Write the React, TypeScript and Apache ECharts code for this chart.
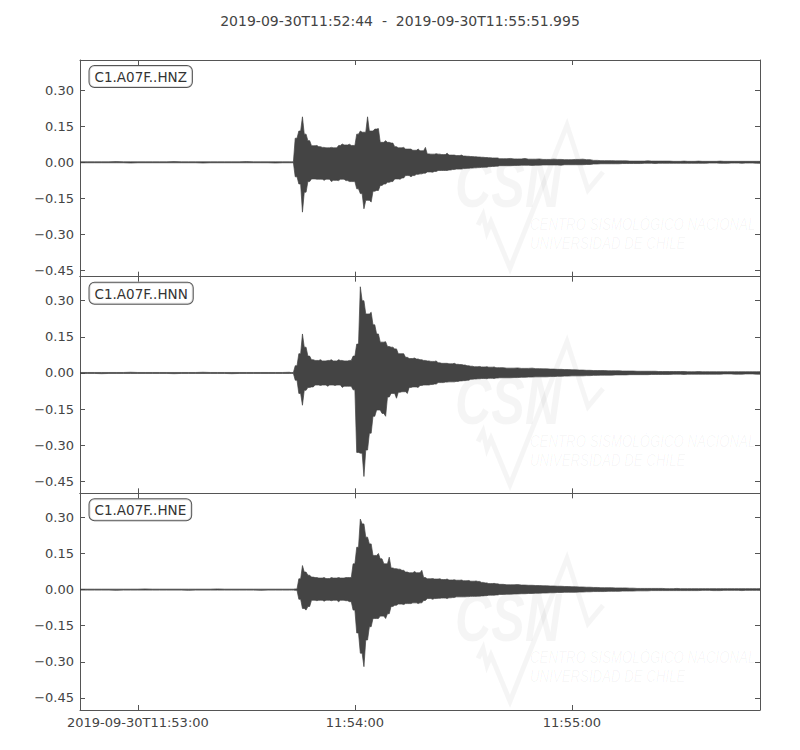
import React, { useEffect, useRef } from "react";
import * as echarts from "echarts";

// ---------- labels ----------
const titleText = "2019-09-30T11:52:44  -  2019-09-30T11:55:51.995";
const channels = ["C1.A07F..HNZ", "C1.A07F..HNN", "C1.A07F..HNE"];
// x in seconds relative to 2019-09-30T11:53:00
const xMin = -16;
const xMax = 171.995;
const xTickValues = [0, 60, 120];
const xTickLabels = ["2019-09-30T11:53:00", "11:54:00", "11:55:00"];
const yTickValues = [-0.45, -0.3, -0.15, 0, 0.15, 0.3];
const yMins = [-0.475, -0.5, -0.5];
const yMaxs = [0.425, 0.4, 0.4];

// ---------- sampled envelopes (per-bin max / min) ----------
const PRE_START = -16, PRE_STEP = 4;
const EVENT_START = 42, EVENT_STEP = 1;
const CODA_START = 100, CODA_STEP = 2;

// HNZ
const hnzPreUpper = [0.002, 0.002, 0.003, 0.002, 0.002, 0.002, 0.003, 0.002, 0.002, 0.002, 0.002, 0.003, 0.002, 0.002, 0.002];
const hnzPreLower = [-0.002, -0.002, -0.002, -0.003, -0.002, -0.002, -0.002, -0.002, -0.003, -0.002, -0.002, -0.002, -0.002, -0.003, -0.002];
const hnzEventUpper = [0.002, 0.1, 0.13, 0.189, 0.117, 0.09, 0.069, 0.07, 0.065, 0.062, 0.06, 0.062, 0.06, 0.07, 0.076, 0.072, 0.075, 0.07, 0.117, 0.13, 0.125, 0.189, 0.13, 0.138, 0.14, 0.083, 0.09, 0.083, 0.08, 0.065, 0.06, 0.062, 0.055, 0.055, 0.05, 0.055, 0.048, 0.062, 0.035, 0.034, 0.036, 0.034, 0.032, 0.038, 0.03, 0.03, 0.028, 0.03, 0.026, 0.025, 0.024, 0.023, 0.022, 0.021, 0.02, 0.019, 0.018, 0.018];
const hnzEventLower = [-0.002, -0.06, -0.09, -0.207, -0.124, -0.08, -0.069, -0.07, -0.07, -0.075, -0.07, -0.08, -0.075, -0.076, -0.07, -0.076, -0.08, -0.08, -0.11, -0.13, -0.193, -0.158, -0.165, -0.12, -0.117, -0.096, -0.09, -0.083, -0.08, -0.069, -0.07, -0.065, -0.055, -0.06, -0.055, -0.05, -0.048, -0.045, -0.04, -0.041, -0.038, -0.034, -0.034, -0.034, -0.032, -0.03, -0.028, -0.028, -0.026, -0.025, -0.024, -0.023, -0.022, -0.021, -0.02, -0.018, -0.017, -0.016];
const hnzCodaUpper = [0.015, 0.016, 0.014, 0.016, 0.013, 0.014, 0.012, 0.013, 0.012, 0.011, 0.012, 0.013, 0.011, 0.008, 0.007, 0.007, 0.006, 0.006, 0.005, 0.005, 0.006, 0.005, 0.005, 0.005, 0.004, 0.005, 0.004, 0.005, 0.004, 0.004, 0.005, 0.004, 0.004, 0.004, 0.004, 0.004];
const hnzCodaLower = [-0.014, -0.014, -0.013, -0.012, -0.013, -0.012, -0.011, -0.011, -0.012, -0.01, -0.01, -0.01, -0.009, -0.007, -0.006, -0.006, -0.006, -0.005, -0.005, -0.005, -0.004, -0.005, -0.004, -0.004, -0.004, -0.004, -0.004, -0.004, -0.004, -0.003, -0.004, -0.004, -0.003, -0.004, -0.003, -0.004];

// HNN
const hnnPreUpper = [0.002, 0.002, 0.002, 0.003, 0.002, 0.002, 0.002, 0.002, 0.003, 0.002, 0.002, 0.002, 0.002, 0.002, 0.003];
const hnnPreLower = [-0.002, -0.003, -0.002, -0.002, -0.002, -0.002, -0.003, -0.002, -0.002, -0.002, -0.003, -0.002, -0.002, -0.002, -0.002];
const hnnEventUpper = [0.002, 0.03, 0.08, 0.162, 0.107, 0.07, 0.055, 0.052, 0.055, 0.05, 0.052, 0.055, 0.05, 0.055, 0.052, 0.05, 0.052, 0.07, 0.12, 0.358, 0.3, 0.245, 0.252, 0.2, 0.162, 0.128, 0.13, 0.11, 0.107, 0.1, 0.08, 0.08, 0.065, 0.06, 0.062, 0.058, 0.055, 0.052, 0.05, 0.048, 0.05, 0.042, 0.04, 0.04, 0.038, 0.04, 0.036, 0.035, 0.033, 0.03, 0.028, 0.026, 0.027, 0.025, 0.026, 0.024, 0.025, 0.022];
const hnnEventLower = [-0.002, -0.03, -0.085, -0.134, -0.072, -0.06, -0.058, -0.05, -0.052, -0.05, -0.055, -0.05, -0.052, -0.05, -0.06, -0.055, -0.055, -0.07, -0.33, -0.333, -0.43, -0.32, -0.25, -0.18, -0.154, -0.168, -0.18, -0.1, -0.085, -0.105, -0.08, -0.078, -0.085, -0.06, -0.058, -0.06, -0.052, -0.05, -0.05, -0.048, -0.046, -0.04, -0.04, -0.038, -0.037, -0.037, -0.035, -0.033, -0.032, -0.03, -0.026, -0.025, -0.024, -0.023, -0.024, -0.022, -0.023, -0.021];
const hnnCodaUpper = [0.022, 0.02, 0.021, 0.019, 0.02, 0.018, 0.017, 0.016, 0.015, 0.014, 0.013, 0.012, 0.011, 0.01, 0.01, 0.009, 0.009, 0.008, 0.008, 0.007, 0.007, 0.007, 0.006, 0.006, 0.006, 0.006, 0.005, 0.006, 0.005, 0.005, 0.005, 0.005, 0.005, 0.005, 0.005, 0.005];
const hnnCodaLower = [-0.02, -0.02, -0.019, -0.018, -0.017, -0.016, -0.016, -0.015, -0.014, -0.013, -0.012, -0.012, -0.011, -0.01, -0.009, -0.009, -0.008, -0.008, -0.007, -0.007, -0.007, -0.006, -0.006, -0.006, -0.005, -0.006, -0.005, -0.005, -0.005, -0.005, -0.005, -0.004, -0.005, -0.005, -0.004, -0.005];

// HNE
const hnePreUpper = [0.002, 0.002, 0.002, 0.002, 0.003, 0.002, 0.002, 0.002, 0.002, 0.003, 0.002, 0.002, 0.002, 0.002, 0.002];
const hnePreLower = [-0.002, -0.002, -0.003, -0.002, -0.002, -0.002, -0.002, -0.003, -0.002, -0.002, -0.002, -0.002, -0.003, -0.002, -0.002];
const hneEventUpper = [0.002, 0.003, 0.045, 0.1, 0.073, 0.06, 0.052, 0.05, 0.048, 0.05, 0.046, 0.05, 0.048, 0.05, 0.048, 0.05, 0.05, 0.107, 0.176, 0.293, 0.273, 0.218, 0.19, 0.142, 0.15, 0.128, 0.107, 0.135, 0.09, 0.087, 0.085, 0.08, 0.073, 0.07, 0.075, 0.07, 0.08, 0.05, 0.045, 0.046, 0.044, 0.045, 0.042, 0.044, 0.04, 0.041, 0.039, 0.04, 0.037, 0.038, 0.035, 0.036, 0.034, 0.03, 0.028, 0.025, 0.026, 0.024];
const hneEventLower = [-0.002, -0.003, -0.04, -0.078, -0.085, -0.07, -0.044, -0.046, -0.044, -0.048, -0.044, -0.046, -0.044, -0.05, -0.044, -0.046, -0.05, -0.085, -0.18, -0.264, -0.32, -0.209, -0.154, -0.12, -0.12, -0.11, -0.12, -0.1, -0.07, -0.065, -0.06, -0.062, -0.058, -0.058, -0.055, -0.058, -0.055, -0.045, -0.037, -0.04, -0.037, -0.036, -0.035, -0.037, -0.034, -0.033, -0.03, -0.03, -0.03, -0.029, -0.028, -0.028, -0.027, -0.026, -0.025, -0.023, -0.023, -0.022];
const hneCodaUpper = [0.022, 0.02, 0.021, 0.019, 0.018, 0.017, 0.016, 0.015, 0.014, 0.013, 0.012, 0.011, 0.01, 0.009, 0.008, 0.008, 0.007, 0.007, 0.006, 0.005, 0.005, 0.005, 0.005, 0.004, 0.005, 0.004, 0.004, 0.004, 0.004, 0.004, 0.004, 0.004, 0.004, 0.004, 0.004, 0.004];
const hneCodaLower = [-0.02, -0.019, -0.018, -0.017, -0.016, -0.015, -0.014, -0.013, -0.012, -0.011, -0.011, -0.01, -0.009, -0.008, -0.008, -0.007, -0.007, -0.006, -0.006, -0.005, -0.005, -0.004, -0.004, -0.004, -0.004, -0.004, -0.004, -0.004, -0.003, -0.004, -0.004, -0.003, -0.003, -0.004, -0.003, -0.003];

type Seg = { start: number; step: number; upper: number[]; lower: number[] };

const traces: Seg[][] = [
  [
    { start: PRE_START, step: PRE_STEP, upper: hnzPreUpper, lower: hnzPreLower },
    { start: EVENT_START, step: EVENT_STEP, upper: hnzEventUpper, lower: hnzEventLower },
    { start: CODA_START, step: CODA_STEP, upper: hnzCodaUpper, lower: hnzCodaLower },
  ],
  [
    { start: PRE_START, step: PRE_STEP, upper: hnnPreUpper, lower: hnnPreLower },
    { start: EVENT_START, step: EVENT_STEP, upper: hnnEventUpper, lower: hnnEventLower },
    { start: CODA_START, step: CODA_STEP, upper: hnnCodaUpper, lower: hnnCodaLower },
  ],
  [
    { start: PRE_START, step: PRE_STEP, upper: hnePreUpper, lower: hnePreLower },
    { start: EVENT_START, step: EVENT_STEP, upper: hneEventUpper, lower: hneEventLower },
    { start: CODA_START, step: CODA_STEP, upper: hneCodaUpper, lower: hneCodaLower },
  ],
];

// Min/max plotting: each bin peaks at its centre; at bin edges the outline
// drops to the smaller of the two neighbouring extremes (spiky envelope).
function envelopeOutline(segs: Seg[]) {
  const bins: { t0: number; t1: number; u: number; l: number }[] = [];
  segs.forEach((s) => {
    s.upper.forEach((u, i) => {
      const t0 = s.start + i * s.step;
      bins.push({ t0, t1: t0 + s.step, u, l: s.lower[i] });
    });
  });
  const top: number[][] = [];
  const bottom: number[][] = [];
  bins.forEach((b, i) => {
    const prev = bins[i - 1];
    const eu = prev ? Math.min(prev.u, b.u) : b.u;
    const el = prev ? Math.max(prev.l, b.l) : b.l;
    top.push([b.t0, eu], [(b.t0 + b.t1) / 2, b.u]);
    bottom.push([b.t0, el], [(b.t0 + b.t1) / 2, b.l]);
  });
  const last = bins[bins.length - 1];
  top.push([last.t1, last.u]);
  bottom.push([last.t1, last.l]);
  return top.concat(bottom.reverse());
}

const AX = "#555";
const TXT = "#444";
const WAVE = "#444";
const FONT = "DejaVu Sans";

export default function App() {
  const ref = useRef<HTMLDivElement>(null);
  useEffect(() => {
    if (!ref.current) return;
    const chart = echarts.init(ref.current, undefined, { renderer: "svg" });
    const gridLeft = 80;
    const gridWidth = 680;
    const gridTop = 60;
    const gridH = 650 / 3;
    const tops = [0, 1, 2].map((i) => gridTop + i * gridH);

    const xAxes: any[] = [];
    const yAxes: any[] = [];
    const series: any[] = [];
    const graphics: any[] = [];

    tops.forEach((top, i) => {
      ["bottom", "top"].forEach((pos) => {
        xAxes.push({
          gridIndex: i,
          type: "value",
          position: pos,
          min: xMin,
          max: xMax,
          axisLine: { show: true, onZero: false, lineStyle: { color: AX, width: 1 } },
          axisTick: { show: true, inside: true, length: 5, customValues: xTickValues, lineStyle: { color: AX } },
          axisLabel: {
            show: pos === "bottom" && i === 2,
            customValues: xTickValues,
            formatter: (v: number) => xTickLabels[xTickValues.indexOf(v)] ?? "",
            color: TXT,
            fontSize: 13,
            fontFamily: FONT,
            margin: 6,
          },
          splitLine: { show: false },
        });
      });
      ["left", "right"].forEach((pos) => {
        yAxes.push({
          gridIndex: i,
          type: "value",
          position: pos,
          min: yMins[i],
          max: yMaxs[i],
          axisLine: { show: true, onZero: false, lineStyle: { color: AX, width: 1 } },
          axisTick: { show: true, inside: true, length: 5, customValues: yTickValues, lineStyle: { color: AX } },
          axisLabel: {
            show: pos === "left",
            customValues: yTickValues,
            formatter: (v: number) => (v < 0 ? "\u2212" + Math.abs(v).toFixed(2) : v.toFixed(2)),
            color: TXT,
            fontSize: 13,
            fontFamily: FONT,
            margin: 6,
          },
          splitLine: { show: false },
        });
      });
      const outline = envelopeOutline(traces[i]);
      series.push({
        type: "custom",
        coordinateSystem: "cartesian2d",
        xAxisIndex: 2 * i,
        yAxisIndex: 2 * i,
        data: [[outline[0][0], outline[0][1]]],
        silent: true,
        clip: true,
        z: 5,
        renderItem: (_p: any, api: any) => ({
          type: "polygon",
          shape: { points: outline.map((pt) => api.coord(pt)) },
          style: { fill: WAVE, stroke: WAVE, lineWidth: 0.7, lineJoin: "miter" },
        }),
      });

      // faint CSN watermark
      const wm = "rgba(0,0,0,0.04)";
      graphics.push({
        type: "group",
        x: 0,
        y: top,
        z: -10,
        silent: true,
        children: [
          {
            type: "text",
            x: 455,
            y: 124,
            scaleX: 0.74,
            style: {
              text: "CSN",
              font: 'italic bold 68px "Liberation Sans"',
              fill: wm,
              textVerticalAlign: "middle",
            },
          },
          {
            type: "polyline",
            shape: {
              points: [
                [478, 165], [483, 155], [487, 172], [491, 162], [510, 208], [567, 65], [588, 130], [603, 112],
              ],
            },
            style: { stroke: wm, lineWidth: 5, fill: "none" },
          },
          {
            type: "text",
            x: 530,
            y: 164,
            scaleX: 0.78,
            style: {
              text: "CENTRO SISMOLÓGICO NACIONAL",
              font: 'italic 17px "Liberation Sans"',
              fill: wm,
              textVerticalAlign: "middle",
            },
          },
          {
            type: "text",
            x: 530,
            y: 183,
            scaleX: 0.78,
            style: {
              text: "UNIVERSIDAD DE CHILE",
              font: 'italic 17px "Liberation Sans"',
              fill: wm,
              textVerticalAlign: "middle",
            },
          },
        ],
      });
      // station label box
      graphics.push({
        type: "text",
        x: 89.5,
        y: top + 6,
        z: 20,
        style: {
          text: channels[i],
          font: `13.5px "${FONT}"`,
          fill: "#333",
          backgroundColor: "rgba(255,255,255,0.8)",
          borderColor: "#555",
          borderWidth: 1,
          borderRadius: 5,
          padding: [4, 5, 3, 5],
          textVerticalAlign: "top",
        },
      });
    });

    chart.setOption({
      animation: false,
      backgroundColor: "#fff",
      title: {
        text: titleText,
        left: "center",
        top: 9,
        textStyle: { fontFamily: FONT, fontSize: 14, fontWeight: "normal", color: TXT },
      },
      grid: tops.map((t) => ({ left: gridLeft, width: gridWidth, top: t, height: gridH, show: false })),
      xAxis: xAxes,
      yAxis: yAxes,
      series,
      graphic: graphics,
    });
    return () => chart.dispose();
  }, []);
  return <div ref={ref} style={{ position: "absolute", left: 0, top: 0, width: 800, height: 750 }} />;
}
